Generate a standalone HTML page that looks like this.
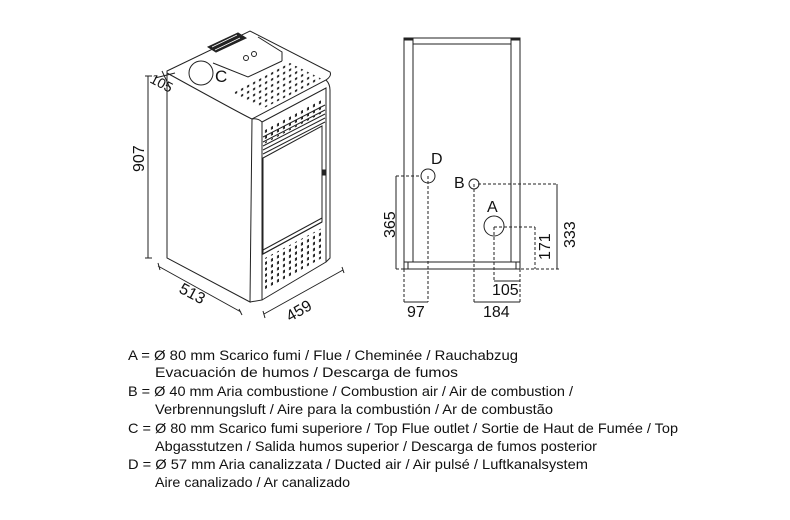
<!DOCTYPE html>
<html><head><meta charset="utf-8"><style>
html,body{margin:0;padding:0;background:#fff;width:790px;height:520px;overflow:hidden}
svg{display:block}
text{font-family:"Liberation Sans",sans-serif;fill:#111}
</style></head><body>
<svg width="790" height="520" viewBox="0 0 790 520" xmlns="http://www.w3.org/2000/svg">
<defs>
<pattern id="dots" width="6" height="6" patternUnits="userSpaceOnUse" patternTransform="skewY(-28)">
<rect x="1" y="1" width="2.2" height="2.2" fill="#222"/></pattern>
<pattern id="dots2" width="6" height="6" patternUnits="userSpaceOnUse" patternTransform="skewY(-28)">
<rect x="1" y="1" width="2" height="3" fill="#222"/></pattern>
</defs>
<g fill="none" stroke="#222" stroke-width="1">
<path d="M167,71 L250,31 L330,72 Q332,76 326,80 L252,119 Q245,116 167,73 Z" fill="#fff"/>
<path d="M167,73 L167,258 L250,302 L252,119"/>
<path d="M252,119 Q258,118 262,122 L262,300 L250,302"/>
<path d="M262,122 L326,88 L326,262 L262,300"/>
<path d="M326,80 Q330,84 330,90 L330,258 L326,262"/>
<circle cx="201" cy="73" r="12"/>
<path d="M208,47 L238,33 L246,38 L216,52 Z" fill="#222"/>
<path d="M212,47 L237,35 M215,50 L240,38" stroke="#fff" stroke-width="0.8"/>
<path d="M213,63 L248,77 L282,61 M258,37 L282,52 L282,61"/>
<circle cx="246" cy="58" r="2.5"/><circle cx="254" cy="54" r="2.5"/>
<polygon points="232,92 290,63 322,79 262,109" fill="url(#dots)" stroke="none"/>
<polygon points="264,128 324,96 324,112 264,144" fill="url(#dots2)" stroke="none"/>
<path d="M263,137 L325,105 M263,142 L325,110 M263,146 L325,114 M263,150 L325,118 M263,154 L325,122"/>
<path d="M263,158 L322,126 L322,222 L263,254 Z"/>
<path d="M263,250 L322,218 M263,254 L322,222"/>
<polygon points="265,258 322,228 322,258 265,290" fill="url(#dots2)" stroke="none"/>
<rect x="322" y="170" width="3" height="5" fill="#222"/>
<path d="M148,76 L148,258 M145,76 L152,76 M145,258 L152,258"/>
<path d="M162,71 L170,88 M155,78 L175,73"/>
<path d="M158,266 L241,312 M158,263 L160,270 M239,309 L242,315"/>
<path d="M264,314 L343,270 M263,311 L265,318 M342,267 L344,273"/>
<rect x="404" y="38" width="116" height="231"/>
<path d="M413,38 L413,262 M511,38 L511,262 M404,262 L520,262 M413,44 L511,44 M408,262 L408,269 M516,262 L516,269"/>
<rect x="404" y="38" width="9" height="2" fill="#222"/><rect x="511" y="38" width="9" height="2" fill="#222"/>
<circle cx="428" cy="176" r="7"/>
<circle cx="474" cy="184" r="5"/>
<circle cx="494" cy="226" r="10"/>
<g stroke-dasharray="3,2">
<path d="M396,176 L421,176 M396,269 L560,269 M428,176 L428,302 M404,269 L404,302 M478,184 L558,184 M474,184 L474,302 M520,269 L520,302 M494,227 L535,227 M535,227 L535,269 M494,227 L494,281"/>
</g>
<path d="M396,176 L396,269 M557,184 L557,269 M404,302 L428,302 M474,302 L520,302 M494,281 L520,281"/>
</g>
<g font-size="16">
<text x="215" y="82" font-size="17">C</text>
<text transform="translate(149,82) rotate(28)" font-size="14">105</text>
<text transform="translate(144,172) rotate(-90)">907</text>
<text transform="translate(178,292) rotate(28)">513</text>
<text transform="translate(290,322) rotate(-30)">459</text>
<text x="431" y="164">D</text>
<text x="454" y="188">B</text>
<text x="487" y="212">A</text>
<text transform="translate(395,238) rotate(-90)">365</text>
<text transform="translate(575,248) rotate(-90)">333</text>
<text transform="translate(550,260) rotate(-90)">171</text>
<text x="492" y="295">105</text>
<text x="407" y="317">97</text>
<text x="483" y="317">184</text>
</g>
<g font-size="14">
<text x="128" y="360" textLength="390" lengthAdjust="spacingAndGlyphs">A = Ø 80 mm  Scarico fumi / Flue / Cheminée / Rauchabzug</text>
<text x="155" y="377" textLength="303" lengthAdjust="spacingAndGlyphs">Evacuación de humos / Descarga de fumos</text>
<text x="128" y="396" textLength="445" lengthAdjust="spacingAndGlyphs">B = Ø 40 mm  Aria combustione / Combustion air / Air de combustion /</text>
<text x="155" y="414" textLength="398" lengthAdjust="spacingAndGlyphs">Verbrennungsluft / Aire para la combustión / Ar de combustão</text>
<text x="128" y="433" textLength="550" lengthAdjust="spacingAndGlyphs">C = Ø 80 mm  Scarico fumi superiore / Top Flue outlet / Sortie de Haut de Fumée / Top</text>
<text x="155" y="451" textLength="442" lengthAdjust="spacingAndGlyphs">Abgasstutzen / Salida humos superior / Descarga de fumos posterior</text>
<text x="128" y="469" textLength="460" lengthAdjust="spacingAndGlyphs">D = Ø 57 mm  Aria canalizzata / Ducted air / Air pulsé / Luftkanalsystem</text>
<text x="155" y="487" textLength="195" lengthAdjust="spacingAndGlyphs">Aire canalizado / Ar canalizado</text>
</g>
</svg>
</body></html>
